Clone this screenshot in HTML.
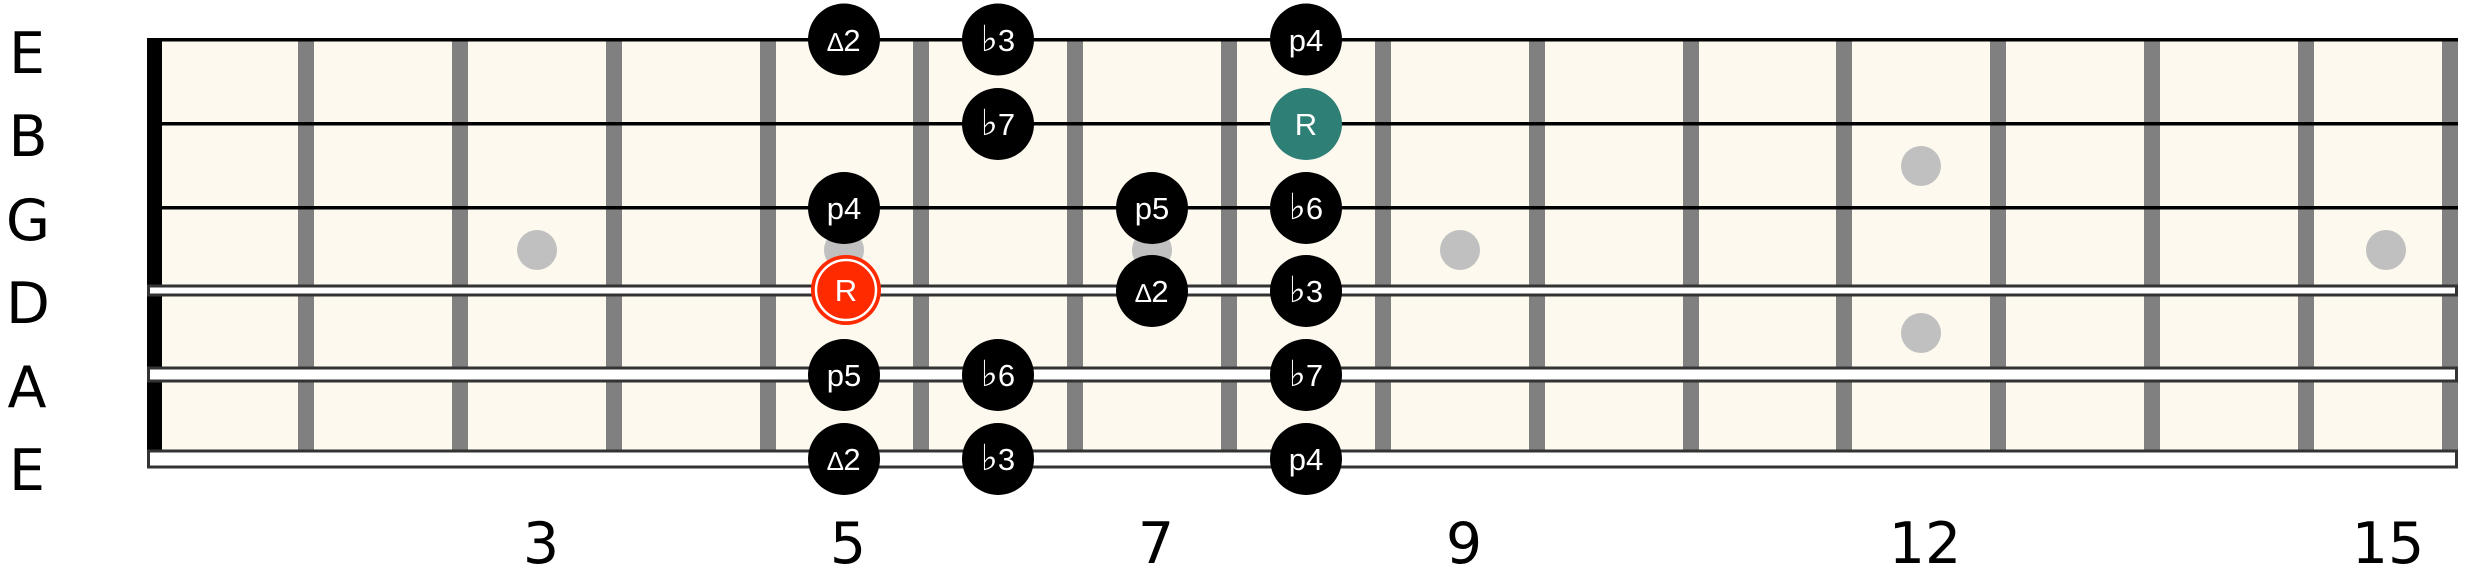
<!DOCTYPE html>
<html><head><meta charset="utf-8"><style>
html,body{margin:0;padding:0;background:#fff;}
svg{display:block;}
.lab{font-family:"DejaVu Sans","Liberation Sans",sans-serif;font-size:57px;fill:#000;text-anchor:middle;}
.nt{font-family:"Liberation Sans","DejaVu Sans",sans-serif;font-size:31px;fill:#fff;text-anchor:middle;}
.fl{font-family:"DejaVu Serif","Liberation Serif",serif;font-size:36px;font-style:italic;}
</style></head><body>
<svg width="2472" height="568" viewBox="0 0 2472 568" xmlns="http://www.w3.org/2000/svg">
<rect x="147" y="40" width="2311" height="420" fill="#fdf9ef"/>
<!-- frets -->
<g fill="#808080">
<rect x="298" y="40" width="16" height="428"/><rect x="452" y="40" width="16" height="428"/>
<rect x="606" y="40" width="16" height="428"/><rect x="760" y="40" width="16" height="428"/>
<rect x="913" y="40" width="16" height="428"/><rect x="1067" y="40" width="16" height="428"/>
<rect x="1221" y="40" width="16" height="428"/><rect x="1375" y="40" width="16" height="428"/>
<rect x="1529" y="40" width="16" height="428"/><rect x="1683" y="40" width="16" height="428"/>
<rect x="1836" y="40" width="16" height="428"/><rect x="1990" y="40" width="16" height="428"/>
<rect x="2144" y="40" width="16" height="428"/><rect x="2298" y="40" width="16" height="428"/>
<rect x="2442" y="40" width="16" height="428"/>
</g>
<rect x="147" y="38" width="15" height="430" fill="#000"/>
<!-- inlays -->
<g fill="#c0c0c0">
<circle cx="537" cy="250" r="20"/><circle cx="844" cy="250" r="20"/><circle cx="1152" cy="250" r="20"/>
<circle cx="1460" cy="250" r="20"/><circle cx="1921" cy="166" r="20"/><circle cx="1921" cy="333" r="20"/>
<circle cx="2386" cy="250" r="20"/>
</g>
<!-- strings -->
<rect x="147" y="38" width="2311" height="3.5" fill="#000"/>
<rect x="147" y="122" width="2311" height="3.5" fill="#000"/>
<rect x="147" y="206" width="2311" height="3.5" fill="#000"/>
<rect x="148.5" y="286" width="2308" height="9" fill="#fff" stroke="#333" stroke-width="3"/>
<rect x="148.5" y="368" width="2308" height="13" fill="#fff" stroke="#333" stroke-width="3"/>
<rect x="148.5" y="451" width="2308" height="16" fill="#fff" stroke="#333" stroke-width="3"/>
<!-- string labels -->
<text class="lab" x="27" y="73">E</text>
<text class="lab" x="28" y="156">B</text>
<text class="lab" x="28" y="240">G</text>
<text class="lab" x="28" y="323">D</text>
<text class="lab" x="27" y="407">A</text>
<text class="lab" x="27" y="490">E</text>
<!-- fret numbers -->
<text class="lab" x="541" y="563">3</text>
<text class="lab" x="848" y="563">5</text>
<text class="lab" x="1156" y="563">7</text>
<text class="lab" x="1464" y="563">9</text>
<text class="lab" x="1925" y="563">12</text>
<text class="lab" x="2388" y="563">15</text>
<!-- notes -->
<g fill="#000">
<circle cx="844" cy="39.5" r="36"/><circle cx="998" cy="39.5" r="36"/><circle cx="1306" cy="39.5" r="36"/>
<circle cx="998" cy="124" r="36"/>
<circle cx="844" cy="208" r="36"/><circle cx="1152" cy="208" r="36"/><circle cx="1306" cy="208" r="36"/>
<circle cx="1152" cy="291" r="36"/><circle cx="1306" cy="291" r="36"/>
<circle cx="844" cy="375" r="36"/><circle cx="998" cy="375" r="36"/><circle cx="1306" cy="375" r="36"/>
<circle cx="844" cy="459" r="36"/><circle cx="998" cy="459" r="36"/><circle cx="1306" cy="459" r="36"/>
</g>
<circle cx="1306" cy="124" r="36" fill="#2e7f76"/>
<circle cx="846" cy="290" r="35" fill="#ff2a00"/>
<circle cx="846" cy="290" r="30" fill="none" stroke="#fff" stroke-width="2.5"/>
<text class="nt" x="844" y="51"><tspan font-size="26">∆</tspan>2</text>
<text class="nt" x="998" y="51"><tspan class="fl">♭</tspan>3</text>
<text class="nt" x="1306" y="51">p4</text>
<text class="nt" x="998" y="135"><tspan class="fl">♭</tspan>7</text>
<text class="nt" x="1306" y="135">R</text>
<text class="nt" x="844" y="219">p4</text>
<text class="nt" x="1152" y="219">p5</text>
<text class="nt" x="1306" y="219"><tspan class="fl">♭</tspan>6</text>
<text class="nt" x="846" y="301">R</text>
<text class="nt" x="1152" y="302"><tspan font-size="26">∆</tspan>2</text>
<text class="nt" x="1306" y="302"><tspan class="fl">♭</tspan>3</text>
<text class="nt" x="844" y="386">p5</text>
<text class="nt" x="998" y="386"><tspan class="fl">♭</tspan>6</text>
<text class="nt" x="1306" y="386"><tspan class="fl">♭</tspan>7</text>
<text class="nt" x="844" y="470"><tspan font-size="26">∆</tspan>2</text>
<text class="nt" x="998" y="470"><tspan class="fl">♭</tspan>3</text>
<text class="nt" x="1306" y="470">p4</text>
</svg>
</body></html>
